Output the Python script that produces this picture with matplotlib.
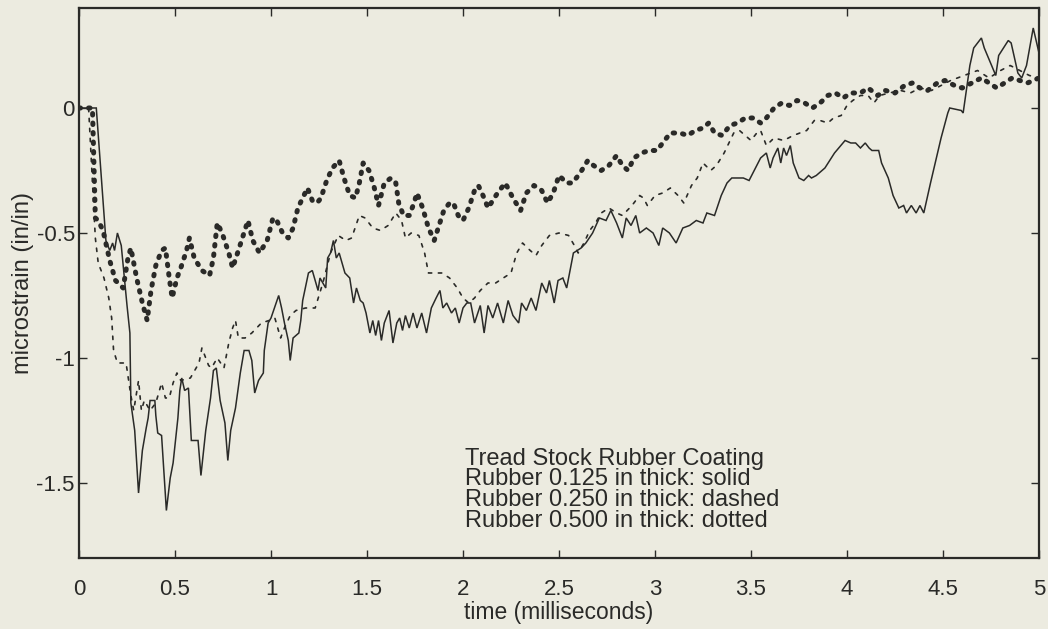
import matplotlib
matplotlib.use("Agg")
import matplotlib.pyplot as plt
from matplotlib.ticker import FixedLocator, FixedFormatter

plt.rcParams['font.family'] = ['Liberation Sans', 'DejaVu Sans']
plt.rcParams['axes.unicode_minus'] = False

# Strain response, 0.125 in rubber (solid)
t_125 = [0.00, 0.09, 0.14, 0.16, 0.175, 0.185, 0.20, 0.22, 0.25, 0.265, 0.27, 0.29, 0.31, 0.33, 0.35, 0.36,
         0.37, 0.395, 0.40, 0.41, 0.43, 0.455, 0.475, 0.49, 0.515, 0.525, 0.535, 0.55, 0.57, 0.585, 0.62,
         0.635, 0.66, 0.685, 0.70, 0.715, 0.735, 0.76, 0.775, 0.79, 0.815, 0.84, 0.86, 0.885, 0.90, 0.915,
         0.935, 0.96, 0.965, 0.985, 1.00, 1.04, 1.055, 1.07, 1.09, 1.10, 1.115, 1.145, 1.155, 1.165, 1.195,
         1.215, 1.245, 1.255, 1.285, 1.295, 1.31, 1.325, 1.34, 1.355, 1.385, 1.41, 1.43, 1.445, 1.465, 1.48,
         1.495, 1.515, 1.53, 1.545, 1.56, 1.575, 1.59, 1.615, 1.635, 1.655, 1.67, 1.685, 1.70, 1.72, 1.74,
         1.76, 1.785, 1.81, 1.835, 1.86, 1.88, 1.895, 1.915, 1.94, 1.96, 1.98, 2.00, 2.02, 2.04, 2.06, 2.09,
         2.11, 2.13, 2.155, 2.18, 2.21, 2.235, 2.26, 2.29, 2.305, 2.33, 2.355, 2.38, 2.41, 2.435, 2.45, 2.475,
         2.495, 2.52, 2.54, 2.575, 2.615, 2.64, 2.675, 2.71, 2.745, 2.77, 2.80, 2.83, 2.85, 2.875, 2.90, 2.92,
         2.955, 2.99, 3.02, 3.04, 3.075, 3.11, 3.145, 3.18, 3.215, 3.25, 3.27, 3.31, 3.345, 3.375, 3.40, 3.425,
         3.46, 3.49, 3.51, 3.55, 3.58, 3.60, 3.615, 3.64, 3.655, 3.67, 3.685, 3.705, 3.72, 3.75, 3.775, 3.80,
         3.815, 3.84, 3.885, 3.935, 3.99, 4.02, 4.045, 4.07, 4.095, 4.115, 4.13, 4.165, 4.18, 4.215, 4.24,
         4.27, 4.295, 4.31, 4.335, 4.36, 4.38, 4.40, 4.435, 4.49, 4.525, 4.535, 4.595, 4.605, 4.64, 4.66,
         4.70, 4.715, 4.775, 4.79, 4.84, 4.855, 4.89, 4.91, 4.935, 4.97, 5.00]
v_125 = [0.00, 0.00, -0.53, -0.57, -0.54, -0.57, -0.50, -0.55, -0.79, -0.90, -1.18, -1.29, -1.54, -1.37, -1.28,
         -1.24, -1.17, -1.17, -1.23, -1.30, -1.31, -1.61, -1.48, -1.42, -1.24, -1.13, -1.08, -1.13, -1.12,
         -1.33, -1.33, -1.47, -1.29, -1.16, -1.05, -1.04, -1.17, -1.26, -1.41, -1.29, -1.20, -1.06, -0.97,
         -0.97, -1.01, -1.14, -1.09, -1.06, -0.97, -0.86, -0.84, -0.75, -0.80, -0.86, -0.93, -1.01, -0.92,
         -0.90, -0.85, -0.77, -0.66, -0.65, -0.73, -0.68, -0.72, -0.60, -0.58, -0.53, -0.60, -0.58, -0.66,
         -0.68, -0.78, -0.72, -0.77, -0.78, -0.82, -0.90, -0.85, -0.91, -0.85, -0.93, -0.86, -0.81, -0.94,
         -0.86, -0.84, -0.89, -0.83, -0.88, -0.82, -0.88, -0.82, -0.90, -0.80, -0.76, -0.73, -0.80, -0.78,
         -0.82, -0.80, -0.86, -0.80, -0.78, -0.78, -0.86, -0.79, -0.90, -0.79, -0.84, -0.78, -0.86, -0.77,
         -0.83, -0.86, -0.78, -0.81, -0.76, -0.81, -0.70, -0.74, -0.69, -0.78, -0.69, -0.68, -0.72, -0.58,
         -0.56, -0.54, -0.50, -0.44, -0.45, -0.41, -0.46, -0.52, -0.44, -0.47, -0.43, -0.50, -0.48, -0.50,
         -0.55, -0.48, -0.50, -0.54, -0.48, -0.47, -0.45, -0.46, -0.42, -0.43, -0.35, -0.30, -0.28, -0.28,
         -0.28, -0.29, -0.26, -0.20, -0.18, -0.24, -0.20, -0.16, -0.22, -0.16, -0.19, -0.15, -0.22, -0.28,
         -0.29, -0.27, -0.28, -0.27, -0.24, -0.18, -0.13, -0.14, -0.14, -0.16, -0.14, -0.16, -0.17, -0.17,
         -0.22, -0.28, -0.35, -0.40, -0.39, -0.42, -0.39, -0.42, -0.39, -0.42, -0.30, -0.12, -0.02, 0.00,
         -0.01, -0.02, 0.17, 0.24, 0.28, 0.24, 0.13, 0.21, 0.27, 0.26, 0.14, 0.12, 0.17, 0.32, 0.22]

# Strain response, 0.250 in rubber (dashed)
t_250 = [0.00, 0.05, 0.07, 0.085, 0.10, 0.13, 0.155, 0.17, 0.18, 0.20, 0.245, 0.27, 0.285, 0.31, 0.325, 0.34,
         0.37, 0.40, 0.43, 0.45, 0.47, 0.49, 0.51, 0.53, 0.58, 0.625, 0.64, 0.675, 0.69, 0.72, 0.755, 0.78,
         0.80, 0.815, 0.83, 0.865, 0.90, 0.95, 0.99, 1.02, 1.05, 1.07, 1.10, 1.13, 1.18, 1.23, 1.27, 1.31,
         1.35, 1.39, 1.42, 1.46, 1.49, 1.53, 1.57, 1.61, 1.65, 1.68, 1.70, 1.73, 1.77, 1.80, 1.82, 1.86, 1.89,
         1.93, 1.97, 2.00, 2.03, 2.06, 2.09, 2.13, 2.17, 2.21, 2.25, 2.28, 2.31, 2.35, 2.38, 2.41, 2.45, 2.50,
         2.55, 2.58, 2.60, 2.63, 2.66, 2.69, 2.72, 2.76, 2.80, 2.83, 2.88, 2.92, 2.94, 2.96, 3.00, 3.04, 3.08,
         3.12, 3.15, 3.19, 3.22, 3.25, 3.29, 3.32, 3.36, 3.41, 3.44, 3.47, 3.50, 3.53, 3.55, 3.58, 3.62, 3.67,
         3.72, 3.79, 3.83, 3.86, 3.90, 3.93, 3.97, 4.00, 4.03, 4.07, 4.11, 4.14, 4.17, 4.22, 4.28, 4.33, 4.38,
         4.44, 4.49, 4.54, 4.61, 4.68, 4.74, 4.80, 4.85, 4.90, 4.95, 5.00]
v_250 = [0.00, 0.00, -0.30, -0.52, -0.62, -0.68, -0.76, -0.84, -0.97, -1.02, -1.02, -1.15, -1.21, -1.09,
         -1.21, -1.17, -1.21, -1.18, -1.10, -1.16, -1.16, -1.10, -1.06, -1.09, -1.08, -1.02, -0.96, -1.03,
         -1.04, -1.00, -1.04, -0.94, -0.88, -0.85, -0.92, -0.92, -0.90, -0.86, -0.85, -0.84, -0.92, -0.88,
         -0.83, -0.81, -0.80, -0.80, -0.70, -0.58, -0.51, -0.53, -0.52, -0.43, -0.44, -0.48, -0.49, -0.47,
         -0.42, -0.45, -0.52, -0.50, -0.51, -0.58, -0.66, -0.66, -0.66, -0.68, -0.72, -0.76, -0.78, -0.76,
         -0.73, -0.70, -0.70, -0.68, -0.66, -0.58, -0.54, -0.57, -0.59, -0.55, -0.51, -0.50, -0.51, -0.55,
         -0.58, -0.54, -0.49, -0.46, -0.42, -0.40, -0.42, -0.43, -0.39, -0.35, -0.36, -0.39, -0.35, -0.34,
         -0.32, -0.35, -0.38, -0.31, -0.28, -0.22, -0.25, -0.23, -0.18, -0.10, -0.09, -0.11, -0.13, -0.10,
         -0.09, -0.15, -0.12, -0.13, -0.11, -0.09, -0.05, -0.05, -0.06, -0.04, -0.03, 0.01, 0.03, 0.05, 0.05,
         0.02, 0.05, 0.06, 0.07, 0.06, 0.08, 0.07, 0.09, 0.11, 0.13, 0.15, 0.12, 0.15, 0.17, 0.15, 0.13, 0.12]

# Strain response, 0.500 in rubber (dotted)
t_500 = [0.00, 0.07, 0.085, 0.10, 0.125, 0.16, 0.19, 0.23, 0.255, 0.27, 0.30, 0.33, 0.355, 0.375, 0.40, 0.43,
         0.45, 0.47, 0.485, 0.51, 0.53, 0.56, 0.575, 0.60, 0.64, 0.68, 0.70, 0.72, 0.745, 0.78, 0.80, 0.83,
         0.855, 0.88, 0.905, 0.94, 0.98, 1.01, 1.03, 1.06, 1.09, 1.115, 1.14, 1.19, 1.215, 1.24, 1.26, 1.29,
         1.32, 1.355, 1.38, 1.41, 1.44, 1.46, 1.48, 1.51, 1.535, 1.56, 1.59, 1.625, 1.65, 1.665, 1.69, 1.72,
         1.745, 1.76, 1.79, 1.82, 1.85, 1.875, 1.90, 1.93, 1.95, 1.975, 2.00, 2.03, 2.06, 2.08, 2.11, 2.13,
         2.18, 2.22, 2.26, 2.30, 2.33, 2.37, 2.41, 2.44, 2.47, 2.50, 2.54, 2.57, 2.61, 2.65, 2.68, 2.72, 2.76,
         2.80, 2.83, 2.86, 2.89, 2.93, 2.97, 3.01, 3.05, 3.08, 3.13, 3.17, 3.21, 3.25, 3.28, 3.31, 3.35, 3.39,
         3.43, 3.47, 3.51, 3.55, 3.58, 3.62, 3.66, 3.70, 3.74, 3.78, 3.82, 3.86, 3.90, 3.94, 3.98, 4.02, 4.07,
         4.11, 4.16, 4.20, 4.25, 4.30, 4.34, 4.38, 4.42, 4.47, 4.51, 4.56, 4.60, 4.65, 4.70, 4.74, 4.78, 4.82,
         4.86, 4.90, 4.94, 5.00]
v_500 = [0.00, 0.00, -0.44, -0.45, -0.49, -0.61, -0.69, -0.72, -0.60, -0.56, -0.68, -0.78, -0.85, -0.73,
         -0.63, -0.57, -0.56, -0.68, -0.76, -0.68, -0.64, -0.57, -0.52, -0.60, -0.65, -0.67, -0.60, -0.46,
         -0.50, -0.58, -0.64, -0.57, -0.51, -0.45, -0.53, -0.58, -0.53, -0.44, -0.45, -0.50, -0.52, -0.48,
         -0.40, -0.32, -0.37, -0.38, -0.36, -0.29, -0.24, -0.21, -0.28, -0.35, -0.36, -0.30, -0.22, -0.25,
         -0.31, -0.39, -0.30, -0.28, -0.30, -0.38, -0.43, -0.43, -0.38, -0.34, -0.40, -0.48, -0.53, -0.47,
         -0.41, -0.38, -0.38, -0.43, -0.45, -0.40, -0.33, -0.31, -0.36, -0.40, -0.34, -0.30, -0.36, -0.41,
         -0.34, -0.31, -0.33, -0.38, -0.34, -0.27, -0.30, -0.30, -0.26, -0.21, -0.23, -0.25, -0.23, -0.19,
         -0.23, -0.25, -0.20, -0.18, -0.17, -0.17, -0.13, -0.10, -0.10, -0.11, -0.09, -0.08, -0.06, -0.10,
         -0.11, -0.07, -0.06, -0.04, -0.04, -0.06, -0.04, 0.00, 0.02, 0.01, 0.03, 0.02, 0.00, 0.02, 0.05,
         0.06, 0.04, 0.06, 0.06, 0.08, 0.05, 0.07, 0.06, 0.09, 0.10, 0.08, 0.07, 0.10, 0.11, 0.09, 0.08,
         0.10, 0.12, 0.10, 0.08, 0.10, 0.12, 0.11, 0.10, 0.12]

x_ticks = [0, 0.5, 1, 1.5, 2, 2.5, 3, 3.5, 4, 4.5, 5]
x_ticklabels = ['0', '0.5', '1', '1.5', '2', '2.5', '3', '3.5', '4', '4.5', '5']
y_ticks = [-1.5, -1, -0.5, 0]
y_ticklabels = ['-1.5', '-1', '-0.5', '0']

note_lines = ['Tread Stock Rubber Coating',
              'Rubber 0.125 in thick: solid',
              'Rubber 0.250 in thick: dashed',
              'Rubber 0.500 in thick: dotted']

paper = '#ecebe0'
ink = '#2a2a28'

fig = plt.figure(figsize=(10.48, 6.29), dpi=100, facecolor=paper)
ax = fig.add_axes([0.0754, 0.1129, 0.9160, 0.8744], facecolor=paper)

ax.plot(t_125, v_125, color=ink, lw=1.1, solid_joinstyle='miter')
ax.plot(t_250, v_250, color=ink, lw=1.2, linestyle=(0, (2.0, 4.0)), dash_capstyle='round')
ax.plot(t_500, v_500, color=ink, lw=3.6, linestyle=(0, (0.3, 1.6)), dash_capstyle='round')

ax.set_xlim(0, 5)
ax.set_ylim(-1.8, 0.4)

ax.xaxis.set_major_locator(FixedLocator(x_ticks))
ax.xaxis.set_major_formatter(FixedFormatter(x_ticklabels))
ax.yaxis.set_major_locator(FixedLocator(y_ticks))
ax.yaxis.set_major_formatter(FixedFormatter(y_ticklabels))

ax.tick_params(axis='both', which='major', direction='in', length=6, width=1.0, color=ink,
               top=True, right=True, labelsize=16, labelcolor=ink)
ax.tick_params(axis='x', pad=15)
ax.tick_params(axis='y', pad=3)

for side in ax.spines.values():
    side.set_color(ink)
    side.set_linewidth(1.6)

ax.set_xlabel('time (milliseconds)', fontsize=16.5, color=ink, labelpad=1)
ax.set_ylabel('microstrain (in/in)', fontsize=17, color=ink, labelpad=2)

# Key to the three coatings, written as one tightly spaced block
# (anchored on the baseline of its last line)
ax.text(2.01, -1.675, '\n'.join(note_lines), fontsize=17, color=ink,
        ha='left', va='baseline', linespacing=0.92)

fig.savefig('out.png', dpi=100, facecolor=paper)
